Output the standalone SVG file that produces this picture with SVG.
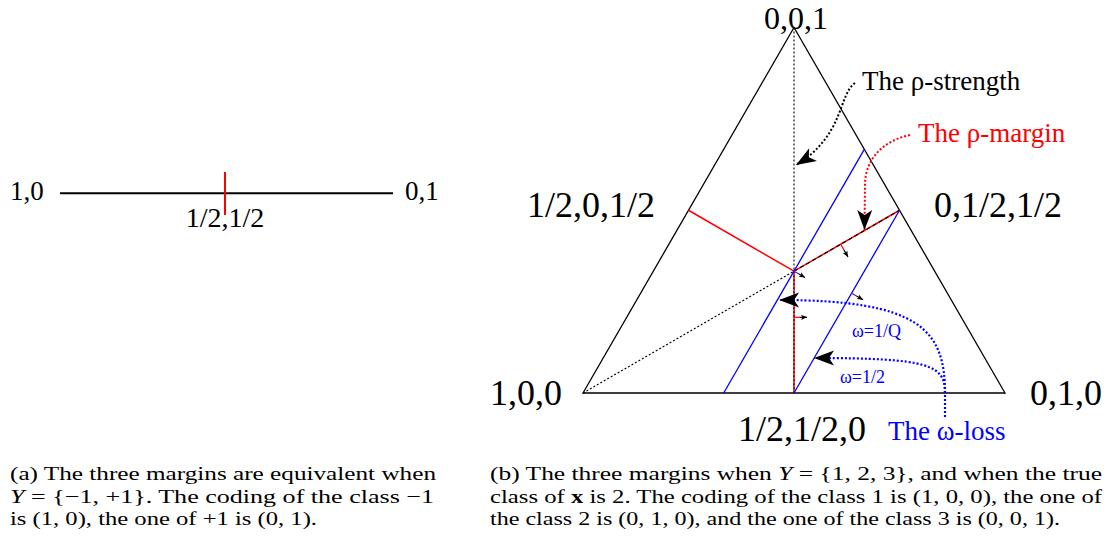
<svg xmlns="http://www.w3.org/2000/svg" width="1110" height="543" viewBox="0 0 1110 543">
<style>
text{font-family:"Liberation Serif","Times New Roman",serif;fill:#000}
.big{font-size:36px}
.mid{font-size:27px}
.cap{font-size:19px}
.edge{stroke:#000;stroke-width:1.3;fill:none}
.blue{stroke:#0000ff;stroke-width:1.3;fill:none}
.red{stroke:#ff0000;stroke-width:1.5;fill:none}
.dot{stroke:#000;stroke-width:1.1;stroke-dasharray:2 2;fill:none}
.bigdot{stroke:#000;stroke-width:2;stroke-dasharray:2 2;fill:none}
.reddot{stroke:#ff0000;stroke-width:2;stroke-dasharray:2 2;fill:none}
.bluedot{stroke:#0000ff;stroke-width:2.2;stroke-dasharray:2 2;fill:none}
.tick{stroke-width:1.2;fill:none}
</style>
<defs>
<marker id="head" viewBox="-21 -9 22 18" refX="0" refY="0" markerWidth="22" markerHeight="18" markerUnits="userSpaceOnUse" orient="auto">
<path d="M0,0 L-20,-7.5 L-15,0 L-20,7.5 Z" fill="#000"/>
</marker>
<marker id="small" viewBox="-7 -4 8 8" refX="0" refY="0" markerWidth="8" markerHeight="8" markerUnits="userSpaceOnUse" orient="auto">
<path d="M0,0 L-6,-2.6 L-4.5,0 L-6,2.6 Z" fill="#000"/>
</marker>
</defs>

<g id="panel-a">
<line x1="60" y1="193.3" x2="393" y2="193.3" stroke="#000" stroke-width="2"/>
<line x1="225" y1="172" x2="225" y2="215" stroke="#ff0000" stroke-width="2"/>
<text class="mid" x="10" y="199.5">1,0</text>
<text class="mid" x="405" y="199.5">0,1</text>
<text x="225" y="226.5" text-anchor="middle" style="font-size:28px">1/2,1/2</text>
</g>

<g id="triangle">
<polygon class="edge" points="583,393 1005,393 794,27.5"/>
</g>

<g id="connectors">
<line class="dot" x1="794" y1="27.5" x2="794" y2="271.2" stroke="#555"/>
<line class="dot" x1="583" y1="393" x2="794" y2="271.2"/>
<line class="red" x1="794" y1="271.2" x2="688.5" y2="210.25"/>
<line class="red" x1="794" y1="271.2" x2="899.5" y2="210.25"/>
<line class="dot" x1="794" y1="271.2" x2="899.5" y2="210.25" style="stroke-dasharray:4 3"/>
<line class="red" x1="794" y1="271.2" x2="794" y2="393"/>
<line class="dot" x1="794" y1="271.2" x2="794" y2="393"/>
<line class="blue" x1="723.7" y1="393" x2="864.3" y2="149.4"/>
<line class="blue" x1="794" y1="393" x2="899.5" y2="210.25"/>
<line class="tick" stroke="#ff0000" x1="840.5" y1="244" x2="844" y2="250"/>
<line class="tick" stroke="#000" x1="844" y1="250" x2="848" y2="257" marker-end="url(#small)"/>
<line class="tick" stroke="#3030c0" x1="793.5" y1="271" x2="799" y2="274"/>
<line class="tick" stroke="#000" x1="799" y1="274" x2="805" y2="277.5" marker-end="url(#small)"/>
<line class="tick" stroke="#6020a0" x1="851" y1="293" x2="856.5" y2="296"/>
<line class="tick" stroke="#000" x1="856.5" y1="296" x2="863" y2="299.8" marker-end="url(#small)"/>
<line class="tick" stroke="#ff0000" x1="794" y1="317.3" x2="800" y2="317.3"/>
<line class="tick" stroke="#000" x1="800" y1="317.3" x2="807" y2="317.3" marker-end="url(#small)"/>
<path class="bigdot" d="M855,83 C838,95 845,135 796,165" marker-end="url(#head)"/>
<path class="reddot" d="M910,135 C882,141 865,160 865,185 L864.5,230" marker-end="url(#head)"/>
<path class="bluedot" d="M945,417 L945,393 C945,330 920,300 779,300" marker-end="url(#head)"/>
<path class="bluedot" d="M945,393 C945,365 930,358 814,358" marker-end="url(#head)"/>
</g>

<g id="labels">
<text x="796" y="28.5" text-anchor="middle" style="font-size:32px">0,0,1</text>
<text class="big" x="527" y="217">1/2,0,1/2</text>
<text class="big" x="934" y="217">0,1/2,1/2</text>
<text class="big" x="490" y="405">1,0,0</text>
<text class="big" x="1030" y="405">0,1,0</text>
<text class="big" x="738" y="441">1/2,1/2,0</text>
<text class="mid" x="862" y="90">The ρ-strength</text>
<text class="mid" x="918" y="142" style="fill:#ff0000">The ρ-margin</text>
<text class="mid" x="888" y="440" style="fill:#0000ff">The ω-loss</text>
<text x="852" y="336.5" style="fill:#0000ff;font-size:18px">ω=1/Q</text>
<text x="840" y="383" style="fill:#0000ff;font-size:18px">ω=1/2</text>
</g>

<g id="caption-a">
<text class="cap" x="10" y="480" textLength="426" lengthAdjust="spacingAndGlyphs">(a) The three margins are equivalent when</text>
<text class="cap" x="10" y="502.5" textLength="424" lengthAdjust="spacingAndGlyphs"><tspan font-style="italic">Y</tspan> = {−1, +1}. The coding of the class −1</text>
<text class="cap" x="10" y="525" textLength="307" lengthAdjust="spacingAndGlyphs">is (1, 0), the one of +1 is (0, 1).</text>
</g>

<g id="caption-b">
<text class="cap" x="490" y="480" textLength="612" lengthAdjust="spacingAndGlyphs">(b) The three margins when <tspan font-style="italic">Y</tspan> = {1, 2, 3}, and when the true</text>
<text class="cap" x="490" y="502.5" textLength="612" lengthAdjust="spacingAndGlyphs">class of <tspan font-weight="bold">x</tspan> is 2. The coding of the class 1 is (1, 0, 0), the one of</text>
<text class="cap" x="490" y="525" textLength="570" lengthAdjust="spacingAndGlyphs">the class 2 is (0, 1, 0), and the one of the class 3 is (0, 0, 1).</text>
</g>
</svg>
